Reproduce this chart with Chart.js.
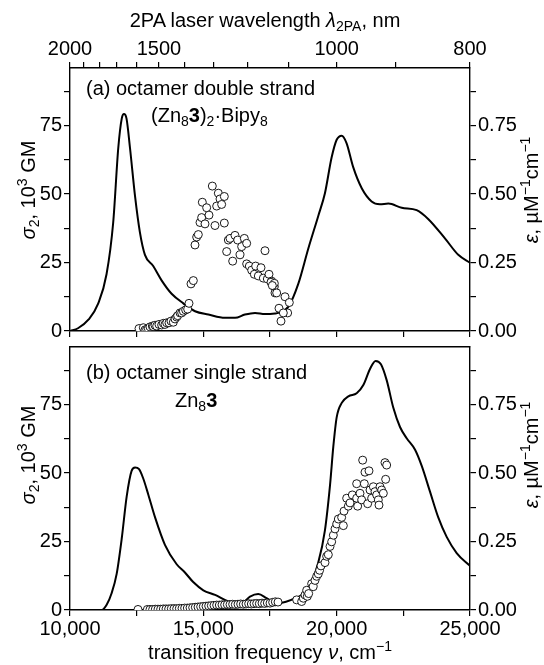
<!DOCTYPE html>
<html><head><meta charset="utf-8">
<script src="https://cdn.jsdelivr.net/npm/chart.js@4.4.1/dist/chart.umd.min.js"></script>
<style>
html,body{margin:0;padding:0;background:#fff;}
#wrap{position:relative;width:544px;height:665px;overflow:hidden;font-family:"Liberation Sans",Arial,Helvetica,sans-serif;color:#000;}
canvas{position:absolute;left:0;}
.t{position:absolute;font-size:20px;line-height:20px;white-space:nowrap;}
.t sub,.t sup{font-size:14px;line-height:0;position:relative;vertical-align:baseline;}
.t sub{top:4px;}
.t sup{top:-8px;}
.c{transform:translate(-50%,0);}
.r{transform:translate(-50%,-50%) rotate(-90deg);}
</style></head><body>
<div id="wrap">
<canvas id="c1" width="544" height="345" style="top:0px"></canvas>
<canvas id="c2" width="544" height="332" style="top:333px"></canvas>
<div class="t c" style="left:265px;top:10px">2PA laser wavelength <i>λ</i><sub>2PA</sub>, nm</div>
<div class="t c" style="left:270px;top:642px">transition frequency <i>ν</i>, cm<sup>−1</sup></div>
<div class="t" style="left:86px;top:78px">(a) octamer double strand</div>
<div class="t" style="left:151px;top:105px">(Zn<sub>8</sub><b>3</b>)<sub>2</sub>·Bipy<sub>8</sub></div>
<div class="t" style="left:86px;top:362px">(b) octamer single strand</div>
<div class="t" style="left:175px;top:390px">Zn<sub>8</sub><b>3</b></div>
<div class="t r" style="left:28px;top:190px"><i>σ</i><sub>2</sub>, 10<sup>3</sup> GM</div>
<div class="t r" style="left:28px;top:455px"><i>σ</i><sub>2</sub>, 10<sup>3</sup> GM</div>
<div class="t r" style="left:531px;top:190px"><i>ε</i>, µM<sup>−1</sup>cm<sup>−1</sup></div>
<div class="t r" style="left:531px;top:455px"><i>ε</i>, µM<sup>−1</sup>cm<sup>−1</sup></div>
</div>
<script>
// ---------- data ----------
// top panel (a): linear absorption (right axis, uM^-1 cm^-1)
const topAbsNu  = [10000,10300,10700,11060,11370,11620,11810,11940,12025,12120,12250,12440,12620,12810,13120,13440,13810,14250,14690,15190,15810,16190,16560,16940,17310,17690,17810,18190,18560,18940,19310,19560,19810,20000,20190,20370,20620,20940,21310,21620,21940,22440,23000,23440,24060,24560,25000];
const topAbsEps = [0,0.010,0.042,0.101,0.207,0.396,0.668,0.775,0.792,0.775,0.668,0.491,0.361,0.278,0.237,0.184,0.136,0.101,0.072,0.060,0.048,0.048,0.060,0.066,0.062,0.064,0.066,0.089,0.172,0.302,0.420,0.503,0.633,0.698,0.713,0.686,0.598,0.521,0.473,0.463,0.465,0.450,0.441,0.408,0.338,0.278,0.249];
// top panel (a): 2PA cross section (left axis, 10^3 GM)
const top2paNu = [12587,12750,12812,12875,12937,13000,13087,13125,13187,13250,13337,13437,13500,13562,13625,13712,13787,13875,13937,14000,14037,14125,14187,14250,14337,14412,14462,14537,14625,14687,14750,14812,14875,14937,14962,15062,15125,15212,15337,15437,15500,15562,15625,15687,15787,15787,15875,15937,16000,16100,16187,16287,16375,16437,16537,16625,16625,16725,16812,16912,16962,17062,17162,17250,17312,17400,17462,17562,17662,17687,17537,17662,17587,17750,18062,18225,17837,18162,18000,17912];
const top2paSig = [0.9,1.2,0.4,0.6,0.9,1.5,1.8,1.6,2.1,1.8,2.4,2.2,2.8,2.4,3.0,3.0,3.6,3.2,4.4,5.1,5.6,6.6,6.6,7.2,7.7,8.0,10.1,17.2,18.4,31.4,34.3,35.2,39.6,41.4,47.0,39.1,45.0,42.3,52.9,38.5,45.6,50.3,48.2,46.2,49.1,39.4,29.0,33.2,33.8,25.5,34.9,33.2,27.8,30.8,33.8,32.0,24.5,23.7,22.2,20.7,23.7,20.1,23.1,19.3,29.3,19.0,20.7,18.2,16.2,13.9,17.8,17.4,16.6,13.9,12.5,10.4,8.3,6.6,6.6,3.6];
// bottom panel (b): linear absorption
const botAbsNu  = [10000,11190,11375,11560,11750,11940,12125,12310,12440,12590,12750,12940,13190,13560,14000,14310,14620,15000,15440,15940,16440,16750,17060,17370,17690,17810,18440,18940,19310,19560,19750,19875,20000,20190,20440,20750,21000,21250,21460,21660,21875,22125,22375,22625,22940,23190,23500,23810,24125,24500,25000];
const botAbsEps = [0,0,0.019,0.061,0.132,0.261,0.414,0.508,0.520,0.514,0.479,0.420,0.338,0.238,0.167,0.137,0.102,0.072,0.055,0.031,0.025,0.049,0.058,0.043,0.025,0.025,0.043,0.078,0.173,0.291,0.455,0.597,0.703,0.756,0.780,0.791,0.821,0.880,0.909,0.897,0.839,0.738,0.668,0.627,0.585,0.526,0.432,0.338,0.267,0.208,0.161];
// bottom panel (b): 2PA cross section
const bot2paNu = [12550,12900,13000,13100,13200,13300,13400,13500,13600,13700,13800,13900,14000,14100,14200,14300,14400,14500,14600,14700,14800,14900,15000,15100,15200,15300,15400,15500,15600,15700,15800,15900,16000,16100,16200,16300,16400,16500,16600,16700,16800,16900,17000,17100,17200,17300,17400,17500,17600,17700,17800,18500,18687,18750,18812,18875,18900,18950,19062,19120,19187,19250,19312,19360,19412,19562,19625,19687,19750,19812,19875,19937,20000,20062,20187,20250,20275,20375,20437,20500,20587,20750,20787,20750,20875,20937,20975,21037,21062,21162,21212,21250,21312,21375,21437,21500,21562,21587,21625,21687,21750,21812,21875,21837];
const bot2paSig = [0.2,0.2,0.2,0.2,0.3,0.3,0.3,0.4,0.4,0.4,0.5,0.5,0.5,0.6,0.6,0.7,0.7,0.8,0.9,1.0,1.1,1.2,1.3,1.4,1.5,1.6,1.7,1.8,1.8,1.9,1.9,2.0,2.0,2.1,2.0,2.1,2.2,2.1,2.2,2.3,2.2,2.3,2.4,2.3,2.5,2.4,2.6,2.5,2.8,3.0,2.9,3.7,3.1,4.3,5.5,7.2,5.0,6.0,9.6,8.5,10.8,12.3,13.2,14.5,16.1,17.3,19.6,20.2,23.2,24.9,27.3,29.6,31.4,33.2,33.8,30.8,36.1,40.8,37.9,39.1,42.0,40.8,37.9,46.1,42.6,40.2,54.7,46.1,50.3,38.8,50.8,43.8,40.8,45.0,43.2,42.0,40.2,38.3,45.0,43.8,42.6,53.8,52.9,47.7];
// axis ticks
const freqTicks = [10000,12500,15000,17500,20000,22500,25000];
const freqLabels = [10000,15000,20000,25000];
const wavelengthTicks = [2000,1900,1800,1700,1600,1500,1400,1300,1200,1100,1000,900,800];
const wavelengthLabels = [2000,1500,1000,800];
const sigmaTicks = [0,12.5,25,37.5,50,62.5,75,87.5];
const sigmaLabels = [0,25,50,75];
const epsTicks = [0,0.125,0.25,0.375,0.5,0.625,0.75,0.875];
const epsLabels = [0,0.25,0.5,0.75];

// ---------- build ----------
const FONT = {family:'"Liberation Sans", Arial, Helvetica, sans-serif', size:20};
const pts = (xs, ys) => xs.map((x,i)=>({x, y: ys[i]}));
const gridOpt = {display:true, drawOnChartArea:false, drawTicks:true, tickLength:6, color:'#000', lineWidth:1.2};
const borderOpt = {display:true, color:'#000', width:1.4};

function panel(canvasId, absNu, absEps, tpaNu, tpaSig, isTop){
  const scales = {
    x: {type:'linear', position:'bottom', min:10000, max:25000,
        afterBuildTicks: s => { s.ticks = freqTicks.map(v=>({value:v})); },
        afterFit: s => { s.height = isTop ? 6 : 55; },
        grid: gridOpt, border: borderOpt,
        ticks: {display: !isTop, autoSkip:false, maxRotation:0, padding:1, color:'#000', font:FONT,
          callback: v => freqLabels.includes(v) ? v.toLocaleString('en-US') : ''}},
    xt: {type:'linear', position:'top', min:10000, max:25000,
        afterBuildTicks: s => { s.ticks = isTop ? wavelengthTicks.map(l=>({value:2e7/l})) : []; },
        afterFit: s => { s.height = isTop ? 68 : 6; },
        grid: Object.assign({}, gridOpt, {drawTicks:isTop}), border: borderOpt,
        ticks: {display:isTop, autoSkip:false, maxRotation:0, padding:1, color:'#000', font:FONT,
          callback: v => { const l = Math.round(2e7/v); return wavelengthLabels.includes(l) ? String(l) : ''; }}},
    yl: {type:'linear', position:'left', min:0, max:96,
        afterBuildTicks: s => { s.ticks = sigmaTicks.map(v=>({value:v})); },
        afterFit: s => { s.width = 70; },
        grid: gridOpt, border: borderOpt,
        ticks: {autoSkip:false, padding:2, color:'#000', font:FONT,
          callback: v => sigmaLabels.includes(v) ? String(v) : ''}},
    yr: {type:'linear', position:'right', min:0, max:0.96,
        afterBuildTicks: s => { s.ticks = epsTicks.map(v=>({value:v})); },
        afterFit: s => { s.width = 74; },
        grid: gridOpt, border: borderOpt,
        ticks: {autoSkip:false, padding:2, color:'#000', font:FONT,
          callback: v => epsLabels.includes(v) ? v.toFixed(2) : ''}}
  };
  return new Chart(document.getElementById(canvasId), {
    type:'scatter',
    data:{datasets:[
      {label:'2PA', data: pts(tpaNu, tpaSig), xAxisID:'x', yAxisID:'yl',
       pointRadius:4, pointBackgroundColor:'#fff', pointBorderColor:'#000', pointBorderWidth:0.9, showLine:false},
      {label:'abs', data: pts(absNu, absEps), xAxisID:'x', yAxisID:'yr',
       showLine:true, pointRadius:0, borderColor:'#000', borderWidth:2, cubicInterpolationMode:'monotone', fill:false}
    ]},
    options:{responsive:false, animation:false, devicePixelRatio:1,
      layout:{padding:0},
      plugins:{legend:{display:false}, tooltip:{enabled:false}},
      scales}
  });
}
panel('c1', topAbsNu, topAbsEps, top2paNu, top2paSig, true);
panel('c2', botAbsNu, botAbsEps, bot2paNu, bot2paSig, false);
</script>
</body></html>
